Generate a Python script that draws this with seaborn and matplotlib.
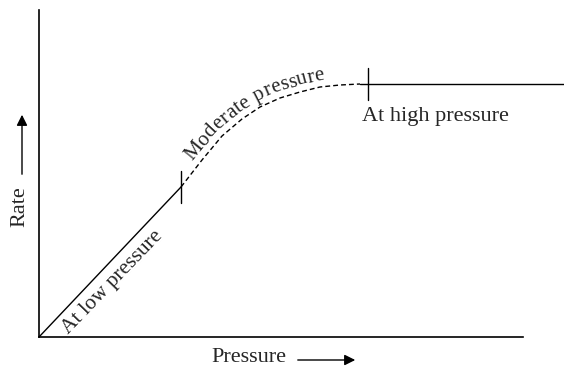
import matplotlib
matplotlib.use('Agg')
import matplotlib.pyplot as plt
from matplotlib.font_manager import FontProperties
import seaborn as sns
import numpy as np

# 数据 (像素近似单位: 压力 vs 速率)
low_x = [0, 142]
low_y = [0, 150]
mid_x = [142, 163, 183, 203, 221, 241, 261, 281, 301, 321]
mid_y = [150, 177, 201, 218, 230, 239, 245, 250, 252, 253]
high_x = [321, 525]
high_y = [253, 253]
tick_x = [142, 329]
tick_y = [150, 253]

sns.set_style("white")
plt.rcParams['font.family'] = ['Liberation Serif', 'DejaVu Serif']

W, H = 564, 367
fig = plt.figure(figsize=(W / 100, H / 100), dpi=100)
ax = fig.add_axes([39/W, 30/H, 484/W, 327/H])

sns.lineplot(x=low_x, y=low_y, ax=ax, color='black', linewidth=1.0)
sns.lineplot(x=mid_x, y=mid_y, ax=ax, color='black', linewidth=1.0, linestyle=(0, (3.5, 2.2)))
sns.lineplot(x=high_x, y=high_y, ax=ax, color='black', linewidth=1.0)
for line in ax.get_lines():
    line.set_clip_on(False)

for tx, ty in zip(tick_x, tick_y):
    ax.plot([tx, tx], [ty - 16, ty + 16], color='black', linewidth=1.0, clip_on=False)

ax.set_xlim(0, 484)
ax.set_ylim(0, 327)
ax.set_xticks([])
ax.set_yticks([])
for s in ['top', 'right']:
    ax.spines[s].set_visible(False)
for s in ['left', 'bottom']:
    ax.spines[s].set_color('black')
    ax.spines[s].set_linewidth(1.2)

fs = 16
ax.text(74, 55, 'At low pressure', rotation=46, ha='center', va='center',
        fontsize=15.5, rotation_mode='anchor')
ax.text(323, 220, 'At high pressure', ha='left', va='center', fontsize=fs)

# "Moderate pressure" 沿虚线曲线排列
renderer = fig.canvas.get_renderer()
mfs = 15
prop = FontProperties(family='Liberation Serif', size=mfs)


def tw(s):
    return renderer.get_text_width_height_descent(s, prop, ismath=False)[0]


pts = ax.transData.transform(np.column_stack([mid_x, mid_y]))
cum = np.concatenate([[0], np.cumsum(np.hypot(np.diff(pts[:, 0]), np.diff(pts[:, 1])))])


def point_at(s):
    return np.interp(s, cum, pts[:, 0]), np.interp(s, cum, pts[:, 1])


label = 'Moderate pressure'
start, offset = 27, 7
ref = tw('M')
adv = [tw(label[:k] + 'M') - ref if k > 0 else 0 for k in range(len(label) + 1)]
for i, ch in enumerate(label):
    if ch == ' ':
        continue
    sc = start + (adv[i] + adv[i + 1]) / 2
    x1, y1 = point_at(sc - 12)
    x2, y2 = point_at(sc + 12)
    ang = np.arctan2(y2 - y1, x2 - x1)
    x0, y0 = point_at(sc)
    px = x0 - offset * np.sin(ang)
    py = y0 + offset * np.cos(ang)
    fig.text(px / W, py / H, ch, rotation=np.degrees(ang), ha='center', va='baseline',
             rotation_mode='anchor', fontsize=mfs)

# 轴标签和箭头
fig.text(20/W, 1 - 207/H, 'Rate', rotation=90, ha='center', va='center', fontsize=fs)
fig.text(249/W, 1 - 358/H, 'Pressure', ha='center', va='center', fontsize=fs)
ax.annotate('', xy=(22/W, 1 - 112/H), xytext=(22/W, 1 - 177/H),
            xycoords='figure fraction', textcoords='figure fraction',
            arrowprops=dict(arrowstyle='-|>', color='black', lw=1.0, mutation_scale=16))
ax.annotate('', xy=(358/W, 1 - 360/H), xytext=(295/W, 1 - 360/H),
            xycoords='figure fraction', textcoords='figure fraction',
            arrowprops=dict(arrowstyle='-|>', color='black', lw=1.0, mutation_scale=16))

plt.savefig('out.png', dpi=100)
